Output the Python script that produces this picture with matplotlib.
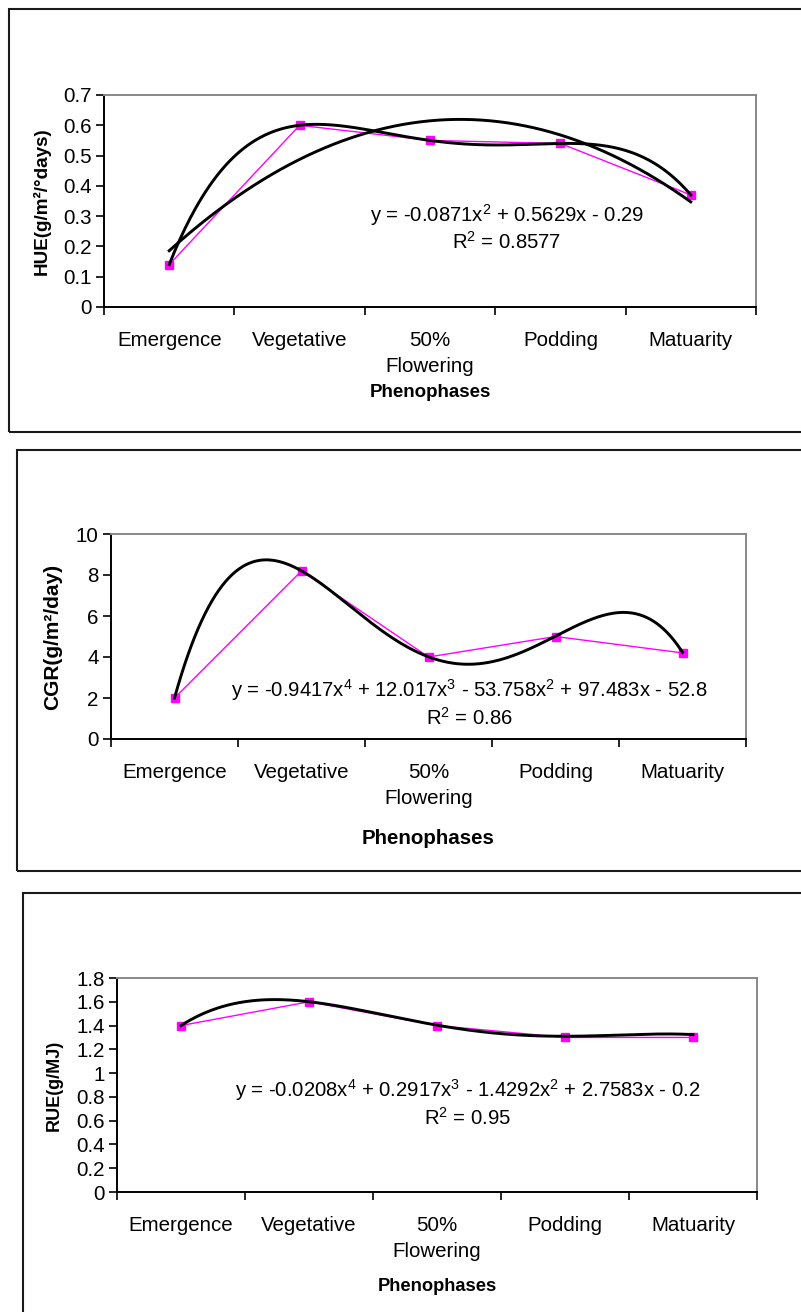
import numpy as np
import matplotlib
matplotlib.use("Agg")
import matplotlib.pyplot as plt
from matplotlib.patches import Rectangle

plt.rcParams['font.family'] = ['Liberation Sans', 'DejaVu Sans']
plt.rcParams['mathtext.fontset'] = 'custom'
plt.rcParams['mathtext.rm'] = 'Liberation Sans'
plt.rcParams['mathtext.it'] = 'Liberation Sans:italic'
plt.rcParams['mathtext.bf'] = 'Liberation Sans:bold'

# data
phases = ['Emergence', 'Vegetative', '50%\nFlowering', 'Podding', 'Matuarity']
hue = [0.14, 0.60, 0.55, 0.54, 0.37]
cgr = [2.0, 8.2, 4.0, 5.0, 4.2]
rue = [1.4, 1.6, 1.4, 1.3, 1.3]

# trend line coefficients shown on the chart (highest power first)
hue_coef = [-0.0871, 0.5629, -0.29]
cgr_coef = [-0.9417, 12.017, -53.758, 97.483, -52.8]
rue_coef = [-0.0208, 0.2917, -1.4292, 2.7583, -0.2]

hue_eq = r"y = -0.0871$\mathregular{x^2}$ + 0.5629x - 0.29" + "\n" + r"$\mathregular{R^2}$ = 0.8577"
cgr_eq = (r"y = -0.9417$\mathregular{x^4}$ + 12.017$\mathregular{x^3}$ - 53.758$\mathregular{x^2}$"
          r" + 97.483x - 52.8" + "\n" + r"$\mathregular{R^2}$ = 0.86")
rue_eq = (r"y = -0.0208$\mathregular{x^4}$ + 0.2917$\mathregular{x^3}$ - 1.4292$\mathregular{x^2}$"
          r" + 2.7583x - 0.2" + "\n" + r"$\mathregular{R^2}$ = 0.95")

W, H = 801, 1312
fig = plt.figure(figsize=(W / 100, H / 100), dpi=100)


def px_rect(left, right, top, bottom):
    return [left / W, 1 - bottom / H, (right - left) / W, (bottom - top) / H]


def frame(left, top, bottom):
    fig.patches.append(Rectangle((left / W, 1 - bottom / H), (830 - left) / W, (bottom - top) / H,
                                 transform=fig.transFigure, fill=False, ec='#1a1a1a', lw=1.5))


def panel(rect, y, curves, ylim, ystep, ylabel, ylab_size, ylab_x, eq, eq_xy, xlab_y, xlab_size):
    ax = fig.add_axes(rect)
    x = np.arange(1, len(y) + 1)
    ax.plot(x, y, color='#ff00ff', lw=1.0, marker='s', ms=5.5, mec='#ff00ff', mfc='#ff00ff', zorder=3)
    xs = np.linspace(1, len(y), 300)
    for coef in curves:
        ax.plot(xs, np.polyval(coef, xs), color='black', lw=2.1, zorder=4)
    ax.set_xlim(0.5, len(y) + 0.5)
    ax.set_ylim(*ylim)
    yt = np.arange(ylim[0], ylim[1] + ystep / 2, ystep)
    ax.set_yticks(yt)
    ax.set_yticklabels(['%g' % round(v, 2) for v in yt], fontsize=14.8)
    ax.set_xticks(np.arange(0.5, len(y) + 1, 1))
    ax.set_xticklabels([])
    ax.set_xticks(x, minor=True)
    ax.set_xticklabels(phases, minor=True, fontsize=14.8, linespacing=1.5)
    ax.tick_params(which='major', direction='out', length=6, width=1.2, color='black')
    ax.tick_params(axis='y', pad=3)
    ax.tick_params(which='minor', length=0, pad=17)
    for s in ['left', 'bottom']:
        ax.spines[s].set_color('black')
        ax.spines[s].set_linewidth(1.4)
    for s in ['top', 'right']:
        ax.spines[s].set_color('#888888')
        ax.spines[s].set_linewidth(1.4)
    ax.set_ylabel(ylabel, fontsize=ylab_size, fontweight='bold')
    ax.yaxis.set_label_coords(ylab_x, 0.5)
    ax.yaxis.label.set_va('center')
    ax.set_xlabel('Phenophases', fontsize=xlab_size, fontweight='bold')
    ax.xaxis.set_label_coords(0.5, xlab_y)
    ax.xaxis.label.set_va('center')
    ax.text(eq_xy[0], eq_xy[1], eq, transform=ax.transAxes, ha='center', va='center',
            multialignment='center', fontsize=14.6, linespacing=1.2)
    return ax


frame(9, 9, 432)
frame(17, 450, 871)
frame(23, 893, 1330)

panel(px_rect(104, 756, 95, 307), hue, [hue_coef, np.polyfit(np.arange(1, 6), hue, 4)],
      (0, 0.7), 0.1, 'HUE(g/m²/°days)', 13.6, -0.095, hue_eq, (0.618, 0.375), -0.405, 13.5)
panel(px_rect(111, 746, 534, 739), cgr, [cgr_coef],
      (0, 10), 2, 'CGR(g/m²/day)', 15, -0.092, cgr_eq, (0.565, 0.176), -0.485, 14.8)
panel(px_rect(117, 757, 978, 1192), rue, [rue_coef],
      (0, 1.8), 0.2, 'RUE(g/MJ)', 13, -0.098, rue_eq, (0.548, 0.416), -0.44, 13.2)

fig.savefig('out.png', dpi=100)
